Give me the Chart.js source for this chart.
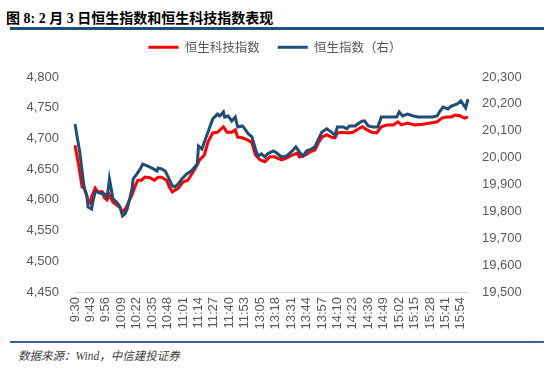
<!DOCTYPE html>
<html>
<head>
<meta charset="utf-8">
<script src="https://cdn.jsdelivr.net/npm/chart.js@4.4.1/dist/chart.umd.min.js"></script>
<style>
  body { margin: 0; width: 550px; height: 372px; background: #fff; position: relative; overflow: hidden; }
  #title { position: absolute; left: 6px; top: 7px; font: bold 14px "Liberation Serif", "Noto Sans CJK SC", serif; color: #000; white-space: nowrap; }
  .rule { position: absolute; left: 10px; right: 6px; background: #1F4E79; }
  #ruleTop { top: 27px; height: 3px; }
  #ruleBottom { top: 341px; height: 2px; background: #3A5F8F; }
  #source { position: absolute; left: 18px; top: 347px; font: italic 11.5px "Liberation Serif", "Noto Sans CJK SC", serif; color: #404040; white-space: nowrap; }
  #wrap { position: absolute; left: 0; top: 23px; width: 550px; height: 317px; }
</style>
</head>
<body>
<div id="title">图 8: 2 月 3 日恒生指数和恒生科技指数表现</div>
<div class="rule" id="ruleTop"></div>
<div id="wrap"><canvas id="chart"></canvas></div>
<div class="rule" id="ruleBottom"></div>
<div id="source">数据来源：Wind，中信建投证券</div>

<script>
// ================= DATA =================
const seriesNames = ["恒生科技指数", "恒生指数（右）"];

// 恒生科技指数 (left axis)
const hstechTimes = ["9:30","9:33","9:36","9:38","9:41","9:43","9:44","9:47","9:49","9:53","9:55","9:57","9:59",
  "10:02","10:05","10:08","10:10","10:13","10:15","10:18","10:21","10:23","10:26","10:29","10:33","10:37","10:40",
  "10:43","10:47","10:50","10:52","10:57","11:01","11:05","11:09","11:13","11:15","11:19","11:22","11:26","11:30",
  "11:35","11:38","11:42","11:45","11:47","11:51","11:56","11:59","13:01","13:05","13:09","13:13","13:17","13:23",
  "13:27","13:32","13:36","13:38","13:43","13:47","13:51","13:54","13:57","14:01","14:05","14:08","14:10","14:15",
  "14:19","14:23","14:29","14:31","14:35","14:39","14:43","14:47","14:52","14:57","15:01","15:04","15:09","15:15",
  "15:22","15:28","15:34","15:38","15:42","15:46","15:49","15:53","15:57","16:00"];
const hstechValues = [4689,4657,4621,4619,4600,4595,4605,4619,4613,4613,4603,4600,4608,
  4596,4592,4587,4580,4587,4596,4608,4624,4632,4632,4637,4636,4632,4637,
  4637,4632,4619,4613,4619,4629,4632,4644,4657,4665,4673,4694,4709,4710,
  4719,4710,4710,4714,4702,4701,4697,4693,4673,4665,4662,4670,4670,4665,
  4668,4673,4676,4670,4673,4678,4681,4693,4702,4706,4702,4701,4709,4710,
  4709,4710,4717,4719,4714,4710,4709,4719,4722,4722,4727,4722,4725,4722,
  4723,4725,4727,4733,4735,4735,4738,4737,4733,4735];

// 恒生指数 (right axis)
const hsiTimes = ["9:30","9:34","9:37","9:38","9:40","9:41","9:44","9:45","9:47","9:49","9:53","9:55","9:57","9:58","9:59",
  "10:01","10:02","10:05","10:08","10:10","10:12","10:14","10:16","10:18","10:19","10:22","10:25","10:27","10:31","10:33",
  "10:36","10:39","10:40","10:43","10:46","10:48","10:52","10:54","10:57","11:00","11:04","11:08","11:13","11:14","11:17",
  "11:19","11:22","11:26","11:30","11:32","11:35","11:36","11:39","11:42","11:45","11:47","11:51","11:53","11:56","11:59",
  "13:01","13:03","13:06","13:09","13:11","13:16","13:19","13:23","13:27","13:32","13:35","13:38","13:41","13:44","13:48",
  "13:51","13:54","13:57","14:01","14:05","14:08","14:10","14:15","14:18","14:20","14:25","14:27","14:31","14:33","14:36",
  "14:40","14:44","14:47","14:52","14:56","15:00","15:02","15:05","15:09","15:14","15:18","15:24","15:30","15:34","15:36",
  "15:39","15:43","15:46","15:51","15:54","15:58","16:00"];
const hsiValues = [20125,20021,19913,19883,19857,19816,19809,19835,19872,19872,19865,19865,19854,19883,19921,
  19872,19846,19835,19816,19783,19790,19809,19846,19883,19921,19939,19958,19976,19969,19965,
  19958,19950,19961,19958,19950,19932,19895,19891,19902,19921,19939,19950,19976,20043,20032,
  20058,20095,20144,20162,20155,20170,20151,20155,20136,20151,20114,20118,20107,20088,20077,
  20032,20006,20014,20002,20014,20025,20017,20002,20006,20025,20040,20021,20006,20025,20032,
  20040,20069,20095,20107,20095,20084,20114,20114,20107,20118,20118,20125,20136,20136,20118,
  20114,20114,20151,20151,20151,20151,20170,20155,20162,20155,20151,20151,20151,20155,20170,
  20188,20181,20192,20200,20211,20185,20218];

const leftTicks = [4450, 4500, 4550, 4600, 4650, 4700, 4750, 4800];
const rightTicks = [19500, 19600, 19700, 19800, 19900, 20000, 20100, 20200, 20300];

// trading sessions, one category per minute; a tick label every 13 minutes
const sessions = [["9:30", "12:00"], ["13:00", "16:00"]];
const labelEvery = 13;

function sessionMinutes(start, end) {
  const out = [];
  let [h, m] = start.split(":").map(Number);
  const [eh, em] = end.split(":").map(Number);
  while (h < eh || (h === eh && m <= em)) {
    out.push(h + ":" + String(m).padStart(2, "0"));
    m++;
    if (m === 60) { m = 0; h++; }
  }
  return out;
}
const minuteLabels = sessions.flatMap(s => sessionMinutes(s[0], s[1]));

// ================= CHART =================
const tickFont = { family: '"Liberation Sans", Arial, sans-serif', size: 13 };
const grey = "#595959";

const legendHeight = {
  id: "legendHeight",
  afterInit(chart) {
    const fit = chart.legend.fit;
    chart.legend.fit = function () {
      fit.call(this);
      this.height = 54;
    };
  }
};

new Chart(document.getElementById("chart"), {
  type: "line",
  data: {
    labels: minuteLabels,
    datasets: [
      {
        label: seriesNames[0],
        data: hstechTimes.map((t, i) => ({ x: t, y: hstechValues[i] })),
        yAxisID: "y",
        borderColor: "#FF0000",
        backgroundColor: "#FF0000",
        borderWidth: 3,
        pointRadius: 0,
        tension: 0,
        order: 1
      },
      {
        label: seriesNames[1],
        data: hsiTimes.map((t, i) => ({ x: t, y: hsiValues[i] })),
        yAxisID: "y1",
        borderColor: "#1F4E79",
        backgroundColor: "#1F4E79",
        borderWidth: 3,
        pointRadius: 0,
        tension: 0,
        order: 0
      }
    ]
  },
  options: {
    responsive: true,
    maintainAspectRatio: false,
    animation: false,
    layout: { padding: 0 },
    plugins: {
      tooltip: { enabled: false },
      legend: {
        position: "top",
        labels: {
          usePointStyle: true,
          pointStyle: "line",
          pointStyleWidth: 30,
          padding: 18,
          color: grey,
          font: { family: '"Noto Sans CJK SC", sans-serif', size: 12.5 },
          sort: (a, b) => a.datasetIndex - b.datasetIndex
        }
      }
    },
    scales: {
      x: {
        type: "category",
        offset: false,
        grid: { display: false, drawTicks: false },
        border: { display: true, color: "#D9D9D9", width: 1 },
        ticks: {
          autoSkip: false,
          maxRotation: 90,
          minRotation: 90,
          padding: 5,
          color: grey,
          font: tickFont,
          callback: function (v, i) {
            return i % labelEvery === 0 ? this.getLabelForValue(v) : null;
          }
        },
        afterFit: s => { s.height = 48; }
      },
      y: {
        position: "left",
        min: leftTicks[0],
        max: leftTicks[leftTicks.length - 1],
        grid: { display: false, drawTicks: false },
        border: { display: false },
        ticks: {
          stepSize: leftTicks[1] - leftTicks[0],
          padding: 16,
          color: grey,
          font: tickFont,
          callback: v => v.toLocaleString("en-US")
        },
        afterFit: s => { s.width = 75; }
      },
      y1: {
        position: "right",
        min: rightTicks[0],
        max: rightTicks[rightTicks.length - 1],
        grid: { display: false, drawTicks: false },
        border: { display: false },
        ticks: {
          stepSize: rightTicks[1] - rightTicks[0],
          padding: 14,
          color: grey,
          font: tickFont,
          callback: v => v.toLocaleString("en-US")
        },
        afterFit: s => { s.width = 82; }
      }
    }
  },
  plugins: [legendHeight]
});
</script>
</body>
</html>
